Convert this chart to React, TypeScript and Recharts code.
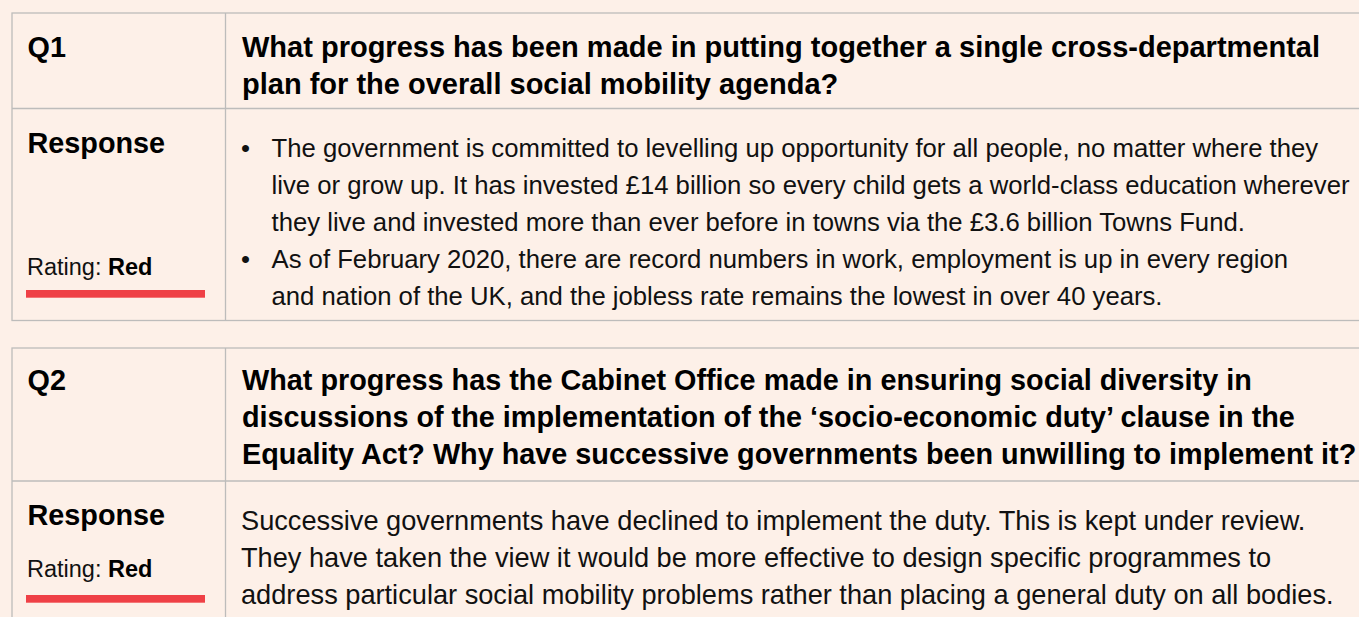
import React from 'react';
import { ComposedChart, Customized } from 'recharts';

const W = 1359;
const H = 617;

const questionIds = ['Q1', 'Q2'];
const questionLines = [
  [
    'What progress has been made in putting together a single cross-departmental',
    'plan for the overall social mobility agenda?',
  ],
  [
    'What progress has the Cabinet Office made in ensuring social diversity in',
    'discussions of the implementation of the \u2018socio-economic duty\u2019 clause in the',
    'Equality Act? Why have successive governments been unwilling to implement it?',
  ],
];
// each response: list of paragraphs (bulleted if more than one), each a list of lines
const responseParagraphs = [
  [
    [
      'The government is committed to levelling up opportunity for all people, no matter where they',
      'live or grow up. It has invested \u00a314 billion so every child gets a world-class education wherever',
      'they live and invested more than ever before in towns via the \u00a33.6 billion Towns Fund.',
    ],
    [
      'As of February 2020, there are record numbers in work, employment is up in every region',
      'and nation of the UK, and the jobless rate remains the lowest in over 40 years.',
    ],
  ],
  [
    [
      'Successive governments have declined to implement the duty. This is kept under review.',
      'They have taken the view it would be more effective to design specific programmes to',
      'address particular social mobility problems rather than placing a general duty on all bodies.',
    ],
  ],
];
const ratingLabel = 'Rating: ';
const ratings = ['Red', 'Red'];

const BG = '#fdf0e8';
const BORDER = '#bdbcbb';
const RED = '#ef4046';
const FONT = '"Liberation Sans", Arial, Helvetica, sans-serif';
const LABEL_SIZE = 28.8;

// layout of each block
const blocks = [
  { top: 13, mid: 108.5, bottom: 320.5, qBase: 56.5, respBase: 153, bodyBase: 157, ratingBase: 275, barY: 290, qSize: 29.0, bodySize: 25.7 },
  { top: 348, mid: 481, bottom: 640, qBase: 390, respBase: 525, bodyBase: 530, ratingBase: 577, barY: 595, qSize: 28.8, bodySize: 27.2 },
];

const LEFT = 12;
const DIV = 225.5;
const LINE_H = 37;

const TableLayer = () => {
  const els: React.ReactNode[] = [];
  blocks.forEach((b, bi) => {
    els.push(
      <rect key={`box${bi}`} x={LEFT} y={b.top} width={W + 20} height={b.bottom - b.top} fill="none" stroke={BORDER} strokeWidth={1.3} />
    );
    els.push(<line key={`mid${bi}`} x1={LEFT} x2={W + 20} y1={b.mid} y2={b.mid} stroke={BORDER} strokeWidth={1.3} />);
    els.push(<line key={`div${bi}`} x1={DIV} x2={DIV} y1={b.top} y2={b.bottom} stroke={BORDER} strokeWidth={1.3} />);
    els.push(
      <text key={`qid${bi}`} x={27.5} y={b.qBase} fontFamily={FONT} fontWeight="bold" fontSize={LABEL_SIZE} fill="#000">
        {questionIds[bi]}
      </text>
    );
    questionLines[bi].forEach((ln, li) => {
      els.push(
        <text key={`q${bi}-${li}`} x={242} y={b.qBase + li * LINE_H} fontFamily={FONT} fontWeight="bold" fontSize={b.qSize} fill="#000">
          {ln}
        </text>
      );
    });
    els.push(
      <text key={`resp${bi}`} x={27.5} y={b.respBase} fontFamily={FONT} fontWeight="bold" fontSize={LABEL_SIZE} fill="#000">
        Response
      </text>
    );
    els.push(
      <text key={`rate${bi}`} x={27} y={b.ratingBase} fontFamily={FONT} fontSize={23.5} fill="#111">
        {ratingLabel}
        <tspan fontWeight="bold" fill="#000">{ratings[bi]}</tspan>
      </text>
    );
    els.push(<rect key={`bar${bi}`} x={26} y={b.barY} width={179} height={7.7} fill={RED} />);
    const paras = responseParagraphs[bi];
    const bulleted = paras.length > 1;
    let lineIdx = 0;
    paras.forEach((p, pi) => {
      p.forEach((ln, li) => {
        const y = b.bodyBase + lineIdx * LINE_H;
        if (bulleted && li === 0) {
          els.push(
            <text key={`bul${bi}-${pi}`} x={241} y={y} fontFamily={FONT} fontSize={b.bodySize} fill="#111">
              {'\u2022'}
            </text>
          );
        }
        els.push(
          <text key={`r${bi}-${pi}-${li}`} x={bulleted ? 271.5 : 241} y={y} fontFamily={FONT} fontSize={b.bodySize} fill="#111">
            {ln}
          </text>
        );
        lineIdx++;
      });
    });
  });
  return <g>{els}</g>;
};

const chartData = questionIds.map((id, i) => ({ id, rating: ratings[i] }));

export default function App() {
  return (
    <div style={{ position: 'absolute', left: 0, top: 0, width: W, height: H, background: BG, overflow: 'hidden' }}>
      <ComposedChart width={W} height={H} data={chartData} margin={{ top: 0, right: 0, bottom: 0, left: 0 }}>
        <Customized component={TableLayer} />
      </ComposedChart>
    </div>
  );
}
